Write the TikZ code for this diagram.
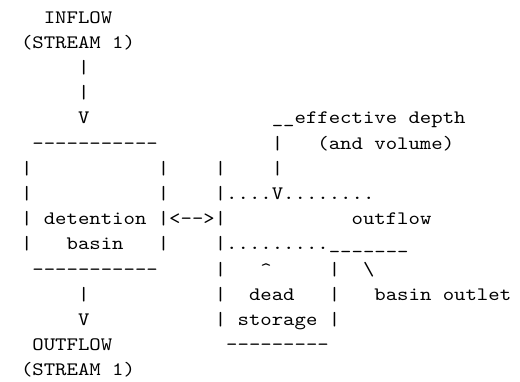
\documentclass[tikz,border=0pt]{standalone}
\usepackage{fontspec}
\newfontfamily\asciifont{lmmono10-regular.otf}[FakeStretch=1.143]
\begin{document}
\begin{tikzpicture}[x=11.4pt, y=-25.2pt,
    chr/.style={anchor=base west, inner sep=0pt, outer sep=0pt,
      font=\asciifont\fontsize{19}{25}\selectfont}]
  \useasboundingbox (0pt,0pt) rectangle (520pt,-382pt);
  \begin{scope}[shift={(21pt,-23.2pt)}, every node/.style={chr}]
    % inflow into the basin
    \node (in) at (2,0) {INFLOW}; \node (ins) at (0,1) {(STREAM 1)};
    \node (ia) at (5,2) {|}; \node (ib) at (5,3) {|}; \node (iv) at
    (5,4) {V};
    % detention basin box
    \node (btop) at (1,5) {-----------};
    \node (bl1) at (0,6) {|}; \node (br1) at (12,6) {|};
    \node (bl2) at (0,7) {|}; \node (br2) at (12,7) {|};
    \node (bl3) at (0,8) {|}; \node (bname) at (2,8) {detention};
    \node (link) at (12,8) {|<-->|};
    \node (bl4) at (0,9) {|}; \node (bname2) at (4,9) {basin};
    \node (br4) at (12,9) {|};
    \node (bbot) at (1,10) {-----------};
    % outflow from the basin
    \node (oa) at (5,11) {|}; \node (ov) at (5,12) {V};
    \node (out) at (1,13) {OUTFLOW}; \node (outs) at (0,14) {(STREAM 1)};
    % depth sketch
    \node (eff) at (22,4) {\_\_effective depth};
    \node (ea) at (22,5) {|}; \node (vol) at (26,5) {(and volume)};
    \node (dl1) at (17,6) {|}; \node (eb) at (22,6) {|};
    \node (lev1) at (17,7) {|....V........};
    \node (oflow) at (29,8) {outflow};
    \node (lev2) at (17,9) {|.........\_\_\_\_\_\_\_};
    \node (dl3) at (17,10) {|}; \node (up) at (21,10)
    {\textasciicircum}; \node (dr3) at (27,10) {|}; \node (sl) at
    (30,10) {\textbackslash};
    \node (dl4) at (17,11) {|}; \node (dead) at (20,11) {dead};
    \node (dr4) at (27,11) {|}; \node (outlet) at (31,11) {basin outlet};
    \node (dl5) at (17,12) {|}; \node (stor) at (19,12) {storage};
    \node (dr5) at (27,12) {|};
    \node (dbot) at (18,13) {---------};
  \end{scope}
\end{tikzpicture}
\end{document}
